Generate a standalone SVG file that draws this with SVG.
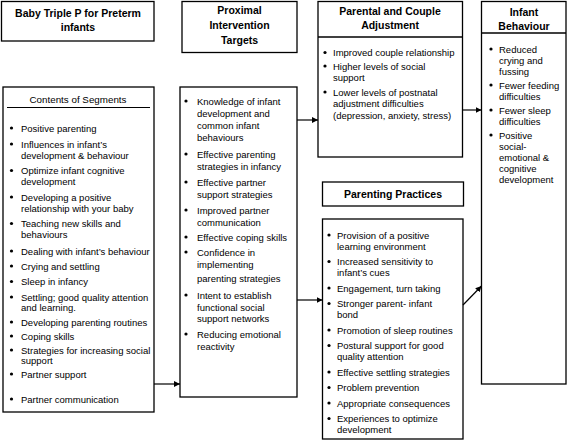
<svg xmlns="http://www.w3.org/2000/svg" width="568" height="444" viewBox="0 0 568 444">
<defs>
<style>
.box{fill:#fff;stroke:#000;stroke-width:1.3}
.hd{font-family:"Liberation Sans",Arial,sans-serif;font-size:10.5px;font-weight:bold;text-anchor:middle;fill:#000}
.tx{font-family:"Liberation Sans",Arial,sans-serif;font-size:9.5px;fill:#000}
.ctr{text-anchor:middle}
.bl{fill:#000}
.cn{stroke:#000;stroke-width:1.2;fill:none;marker-end:url(#ah)}
</style>
<marker id="ah" viewBox="0 0 10 10" refX="10" refY="5" markerWidth="6" markerHeight="6" markerUnits="userSpaceOnUse" orient="auto">
<path d="M0,0 L10,5 L0,10 z" fill="#000"/>
</marker>
</defs>
<rect width="568" height="444" fill="#fff"/>

<g id="program">
<rect class="box" x="1.5" y="1.5" width="152.5" height="39.5"/>
<text class="hd" x="78" y="17">Baby Triple P for Preterm</text>
<text class="hd" x="78" y="30.5">infants</text>
</g>

<g id="proximal-header">
<rect class="box" x="182" y="1.5" width="115" height="51"/>
<text class="hd" x="239.5" y="14">Proximal</text>
<text class="hd" x="239.5" y="29">Intervention</text>
<text class="hd" x="239.5" y="44">Targets</text>
</g>

<g id="parental-adjustment">
<rect class="box" x="318" y="1.5" width="144.5" height="155.5"/>
<line x1="318" y1="37" x2="462.5" y2="37" stroke="#000" stroke-width="1.3"/>
<text class="hd" x="390" y="15">Parental and Couple</text>
<text class="hd" x="390" y="29">Adjustment</text>
<g class="tx">
<circle class="bl" cx="325" cy="52.5" r="1.6"/><text x="333" y="56">Improved couple relationship</text>
<circle class="bl" cx="325" cy="66" r="1.6"/><text x="333" y="69.5">Higher levels of social</text>
<text x="333" y="81">support</text>
<circle class="bl" cx="325" cy="92" r="1.6"/><text x="333" y="95.5">Lower levels of postnatal</text>
<text x="333" y="107">adjustment difficulties</text>
<text x="333" y="118.5">(depression, anxiety, stress)</text>
</g>
</g>

<g id="infant-behaviour">
<rect class="box" x="481.5" y="1.5" width="84.5" height="382.5"/>
<line x1="481.5" y1="33" x2="566" y2="33" stroke="#000" stroke-width="1.3"/>
<text class="hd" x="524" y="16">Infant</text>
<text class="hd" x="524" y="30">Behaviour</text>
<g class="tx">
<circle class="bl" cx="491" cy="49" r="1.6"/><text x="499" y="52.5">Reduced</text>
<text x="499" y="64">crying and</text>
<text x="499" y="75">fussing</text>
<circle class="bl" cx="491" cy="85" r="1.6"/><text x="499" y="88.5">Fewer feeding</text>
<text x="499" y="99.5">difficulties</text>
<circle class="bl" cx="491" cy="110" r="1.6"/><text x="499" y="113.5">Fewer sleep</text>
<text x="499" y="124.5">difficulties</text>
<circle class="bl" cx="491" cy="135" r="1.6"/><text x="499" y="138.5">Positive</text>
<text x="499" y="149.5">social-</text>
<text x="499" y="160.5">emotional &amp;</text>
<text x="499" y="171.5">cognitive</text>
<text x="499" y="182.5">development</text>
</g>
</g>

<g id="contents-of-segments">
<rect class="box" x="3" y="87" width="151" height="325"/>
<text class="tx ctr" x="78" y="102.5" style="font-size:9.8px">Contents of Segments</text>
<line x1="7" y1="107.5" x2="150" y2="107.5" stroke="#000" stroke-width="1"/>
<g class="tx">
<circle class="bl" cx="11.5" cy="128" r="1.6"/><text x="21" y="131.5">Positive parenting</text>
<circle class="bl" cx="11.5" cy="144" r="1.6"/><text x="21" y="147.5">Influences in infant’s</text>
<text x="21" y="158.5">development &amp; behaviour</text>
<circle class="bl" cx="11.5" cy="170.5" r="1.6"/><text x="21" y="174">Optimize infant cognitive</text>
<text x="21" y="185">development</text>
<circle class="bl" cx="11.5" cy="197" r="1.6"/><text x="21" y="200.5">Developing a positive</text>
<text x="21" y="211.5">relationship with your baby</text>
<circle class="bl" cx="11.5" cy="223.5" r="1.6"/><text x="21" y="227">Teaching new skills and</text>
<text x="21" y="238">behaviours</text>
<circle class="bl" cx="11.5" cy="251" r="1.6"/><text x="21" y="254.5">Dealing with infant’s behaviour</text>
<circle class="bl" cx="11.5" cy="266" r="1.6"/><text x="21" y="269.5">Crying and settling</text>
<circle class="bl" cx="11.5" cy="281.5" r="1.6"/><text x="21" y="285">Sleep in infancy</text>
<circle class="bl" cx="11.5" cy="297" r="1.6"/><text x="21" y="300.5">Settling; good quality attention</text>
<text x="21" y="311">and learning.</text>
<circle class="bl" cx="11.5" cy="322" r="1.6"/><text x="21" y="325.5">Developing parenting routines</text>
<circle class="bl" cx="11.5" cy="336" r="1.6"/><text x="21" y="339.5">Coping skills</text>
<circle class="bl" cx="11.5" cy="350" r="1.6"/><text x="21" y="353.5">Strategies for increasing social</text>
<text x="21" y="364">support</text>
<circle class="bl" cx="11.5" cy="374" r="1.6"/><text x="21" y="377.5">Partner support</text>
<circle class="bl" cx="11.5" cy="399" r="1.6"/><text x="21" y="402.5">Partner communication</text>
</g>
</g>

<g id="proximal-targets">
<rect class="box" x="180" y="87" width="117" height="310"/>
<g class="tx">
<circle class="bl" cx="186" cy="101" r="1.6"/><text x="197" y="104.5">Knowledge of infant</text>
<text x="197" y="117">development and</text>
<text x="197" y="129">common infant</text>
<text x="197" y="141">behaviours</text>
<circle class="bl" cx="186" cy="154" r="1.6"/><text x="197" y="157.5">Effective parenting</text>
<text x="197" y="170">strategies in infancy</text>
<circle class="bl" cx="186" cy="182" r="1.6"/><text x="197" y="185.5">Effective partner</text>
<text x="197" y="197.5">support strategies</text>
<circle class="bl" cx="186" cy="210" r="1.6"/><text x="197" y="213.5">Improved partner</text>
<text x="197" y="225.5">communication</text>
<circle class="bl" cx="186" cy="237" r="1.6"/><text x="197" y="240.5">Effective coping skills</text>
<circle class="bl" cx="186" cy="252" r="1.6"/><text x="197" y="255.5">Confidence in</text>
<text x="197" y="267.5">implementing</text>
<text x="197" y="282">parenting strategies</text>
<circle class="bl" cx="186" cy="295" r="1.6"/><text x="197" y="298.5">Intent to establish</text>
<text x="197" y="310.5">functional social</text>
<text x="197" y="322">support networks</text>
<circle class="bl" cx="186" cy="334" r="1.6"/><text x="197" y="337.5">Reducing emotional</text>
<text x="197" y="349.5">reactivity</text>
</g>
</g>

<g id="parenting-practices-header">
<rect class="box" x="322.5" y="182" width="141" height="24"/>
<text class="hd" x="393" y="197.5">Parenting Practices</text>
</g>

<g id="parenting-practices">
<rect class="box" x="322.5" y="219" width="140.5" height="220"/>
<g class="tx">
<circle class="bl" cx="329" cy="235" r="1.6"/><text x="337" y="238.5">Provision of a positive</text>
<text x="337" y="249.5">learning environment</text>
<circle class="bl" cx="329" cy="261.5" r="1.6"/><text x="337" y="265">Increased sensitivity to</text>
<text x="337" y="276">infant’s cues</text>
<circle class="bl" cx="329" cy="288" r="1.6"/><text x="337" y="291.5">Engagement, turn taking</text>
<circle class="bl" cx="329" cy="303.5" r="1.6"/><text x="337" y="307">Stronger parent- infant</text>
<text x="337" y="318">bond</text>
<circle class="bl" cx="329" cy="330" r="1.6"/><text x="337" y="333.5">Promotion of sleep routines</text>
<circle class="bl" cx="329" cy="345.5" r="1.6"/><text x="337" y="349">Postural support for good</text>
<text x="337" y="360">quality attention</text>
<circle class="bl" cx="329" cy="372" r="1.6"/><text x="337" y="375.5">Effective settling strategies</text>
<circle class="bl" cx="329" cy="387.5" r="1.6"/><text x="337" y="391">Problem prevention</text>
<circle class="bl" cx="329" cy="403" r="1.6"/><text x="337" y="406.5">Appropriate consequences</text>
<circle class="bl" cx="329" cy="418.5" r="1.6"/><text x="337" y="422">Experiences to optimize</text>
<text x="337" y="433">development</text>
</g>
</g>

<g id="connectors">
<line class="cn" x1="154" y1="384" x2="180" y2="384"/>
<line class="cn" x1="297" y1="120" x2="318" y2="120"/>
<line class="cn" x1="297" y1="300" x2="322.5" y2="300"/>
<line class="cn" x1="462.5" y1="110" x2="481.5" y2="110"/>
<line class="cn" x1="463" y1="305" x2="481.5" y2="286"/>
</g>
</svg>
